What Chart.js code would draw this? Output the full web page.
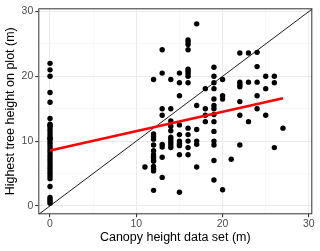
<!DOCTYPE html>
<html lang="en">
<head>
<meta charset="UTF-8">
<title>Canopy height vs highest tree height</title>
<script src="https://cdn.jsdelivr.net/npm/chart.js"></script>
<style>
    html, body { margin: 0; padding: 0; background: #ffffff; }
    .chart-container { width: 320px; height: 251px; }
</style>
</head>
<body>
<div class="chart-container">
    <canvas id="grafico"></canvas>
</div>
<script>
// canopy height (x) and highest tree on plot (y)
var canopyX = [
    0, 0, 0, 0, 0, 0, 0, 0, 0, 0, 0, 0, 0, 0, 0, 0, 0, 0, 0, 0, 0, 0, 0, 0, 0, 0, 0, 0, 0, 0, 0, 0, 0, 0, 0,
    11,
    12, 12, 12, 12, 12, 12, 12, 12, 12, 12, 12, 12, 12, 12,
    13, 13, 13, 13, 13, 13, 13, 13,
    14, 14, 14, 14, 14, 14, 14, 14, 14, 14,
    15, 15, 15, 15, 15, 15, 15, 15, 15, 15,
    16, 16, 16, 16, 16, 16, 16, 16, 16, 16, 16, 16, 16, 16,
    17, 17, 17, 17, 17, 17,
    18, 18, 18, 18,
    19, 19, 19, 19, 19, 19, 19, 19, 19, 19, 19, 19, 19, 19,
    20, 20, 20, 20,
    21,
    22, 22, 22, 22, 22, 22, 22,
    23, 23, 23,
    24, 24, 24, 24, 24,
    25, 25, 25,
    26, 26, 26,
    27
];
var treeY = [
    22, 21, 20, 17.5, 16, 13.5, 12.6, 12.2, 11.8, 11.4, 11, 10.6, 10.2, 9.8, 9.4, 9, 8.6, 8.2, 7.4, 7,
    6.6, 6.2, 5.8, 5.4, 5, 4.6, 4.2, 3, 1.3, 1, 0.7, 0.4, 7.8, 12.4, 10.4,
    6,
    19.5, 11.1, 10.7, 10.3, 9.4, 8.5, 7.9, 7.5, 7.1, 6.9, 6.1, 5.7, 5.4, 2.4,
    24.1, 20.5, 15, 14, 9.5, 9.1, 7.5, 4.4,
    19.5, 15, 13.1, 12.3, 11.6, 10.6, 10.2, 9.8, 9.4, 9,
    20.5, 19, 17, 12.5, 11, 10, 9.6, 9.3, 7.9, 2.1,
    25.6, 25.3, 24.9, 24.1, 21.1, 20.8, 20.4, 20, 19, 12, 11, 10, 9, 7.9,
    28.1, 15.5, 11.8, 10, 9.5, 6,
    18.1, 15, 14, 13,
    21.4, 20, 19, 18.1, 16.5, 15.5, 15, 14.1, 13, 11.5, 10, 9.4, 7, 4,
    19.5, 17, 16.5, 2.5,
    7.2,
    23.6, 19.1, 18.7, 18.4, 16.1, 14, 9.4,
    23.6, 19.1, 13,
    23.7, 21.5, 19.1, 17, 15,
    20, 18.1, 14,
    20, 19, 9,
    12
];

// linear fit (red) and 1:1 line (black)
var ajusteX = [0, 27];
var ajusteY = [8.55, 16.6];
var linha11 = [-2, 32];

// ticks
var ticksMaiores = [0, 10, 20, 30];
var ticksMenores = [5, 15, 25];

var pontos = canopyX.map(function (x, i) { return { x: x, y: treeY[i] }; });
var pontosAjuste = ajusteX.map(function (x, i) { return { x: x, y: ajusteY[i] }; });
var pontos11 = linha11.map(function (v) { return { x: v, y: v }; });

function ehMaior(v) { return ticksMaiores.indexOf(v) >= 0; }

function montarTicks(axis) {
    axis.ticks = ticksMaiores.concat(ticksMenores).sort(function (a, b) { return a - b; })
        .map(function (v) { return { value: v }; });
}

var grade = {
    color: function (ctx) { return ehMaior(ctx.tick && ctx.tick.value) ? '#ebebeb' : '#f4f4f4'; },
    lineWidth: function (ctx) { return ehMaior(ctx.tick && ctx.tick.value) ? 1.1 : 0.6; },
    tickColor: function (ctx) { return ehMaior(ctx.tick && ctx.tick.value) ? '#333333' : 'rgba(0,0,0,0)'; },
    tickLength: 3,
    drawOnChartArea: true
};

function rotulo(v) { return ehMaior(v) ? String(v) : ''; }

// moldura do painel (theme_bw)
var moldura = {
    id: 'moldura',
    afterDatasetsDraw: function (chart) {
        var a = chart.chartArea, ctx = chart.ctx;
        ctx.save();
        ctx.strokeStyle = '#333333';
        ctx.lineWidth = 1;
        ctx.strokeRect(a.left + 0.5, a.top + 0.5, a.right - a.left - 1, a.bottom - a.top - 1);
        ctx.restore();
    }
};

new Chart(document.getElementById('grafico').getContext('2d'), {
    type: 'scatter',
    data: {
        datasets: [
            {
                type: 'line',
                data: pontosAjuste,
                borderColor: '#ff0000',
                borderWidth: 2.6,
                pointRadius: 0,
                fill: false
            },
            {
                type: 'line',
                data: pontos11,
                borderColor: '#000000',
                borderWidth: 0.9,
                pointRadius: 0,
                fill: false
            },
            {
                data: pontos,
                backgroundColor: '#000000',
                borderWidth: 0,
                pointRadius: 2.7
            }
        ]
    },
    options: {
        responsive: true,
        maintainAspectRatio: false,
        animation: false,
        layout: { padding: { top: 6, right: 7.7, left: 0, bottom: 0 } },
        plugins: { legend: { display: false }, tooltip: { enabled: false } },
        scales: {
            x: {
                type: 'linear',
                min: -1.36,
                max: 30.4,
                afterBuildTicks: montarTicks,
                afterFit: function (s) { s.height = 36.7; },
                grid: grade,
                border: { display: false },
                ticks: {
                    callback: rotulo,
                    autoSkip: false,
                    maxRotation: 0,
                    padding: 1,
                    color: '#4d4d4d',
                    font: { family: 'Liberation Sans, Arial, sans-serif', size: 10.5 }
                },
                title: {
                    display: true,
                    text: 'Canopy height data set (m)',
                    color: '#000000',
                    padding: { top: 0, bottom: 5.5 },
                    font: { family: 'Liberation Sans, Arial, sans-serif', size: 12.5 }
                }
            },
            y: {
                type: 'linear',
                min: -1.3,
                max: 30.5,
                afterBuildTicks: montarTicks,
                afterFit: function (s) { s.width = 38.3; },
                grid: grade,
                border: { display: false },
                ticks: {
                    callback: rotulo,
                    autoSkip: false,
                    padding: 2,
                    color: '#4d4d4d',
                    font: { family: 'Liberation Sans, Arial, sans-serif', size: 10.5 }
                },
                title: {
                    display: true,
                    text: 'Highest tree height on plot (m)',
                    color: '#000000',
                    padding: { top: 3.5, bottom: 0 },
                    font: { family: 'Liberation Sans, Arial, sans-serif', size: 12.5 }
                }
            }
        }
    },
    plugins: [moldura]
});
</script>
</body>
</html>
